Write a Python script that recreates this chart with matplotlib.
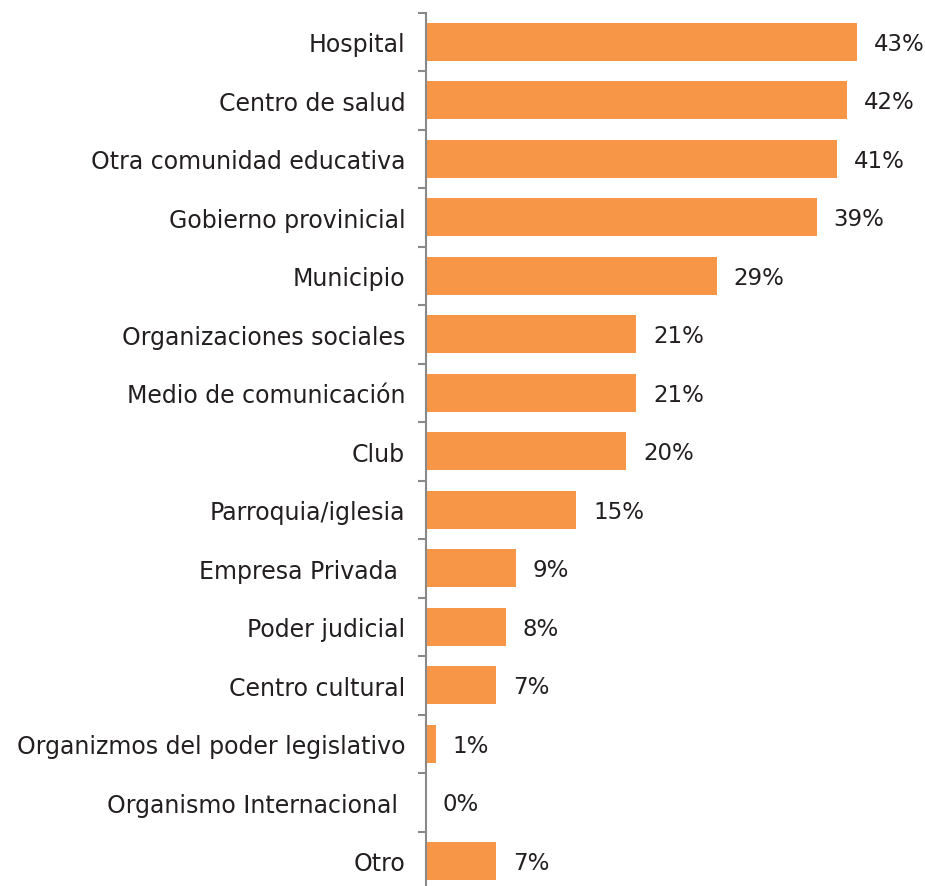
import matplotlib.pyplot as plt
import numpy as np

categories = ['Hospital', 'Centro de salud', 'Otra comunidad educativa', 'Gobierno provinicial',
              'Municipio', 'Organizaciones sociales', 'Medio de comunicación', 'Club',
              'Parroquia/iglesia', 'Empresa Privada ', 'Poder judicial', 'Centro cultural',
              'Organizmos del poder legislativo', 'Organismo Internacional ', 'Otro']
values = [43, 42, 41, 39, 29, 21, 21, 20, 15, 9, 8, 7, 1, 0, 7]

plt.rcParams['font.family'] = ['DejaVu Sans']

fig = plt.figure(figsize=(9.25, 8.87), dpi=100)
ax = fig.add_axes([426 / 925, 1 - 891 / 887, 499 / 925, (891 - 13.75) / 887])

y = np.arange(len(categories))
ax.barh(y, values, height=0.65, color='#F79646')
ax.set_ylim(len(categories) - 0.5, -0.5)
ax.set_xlim(0, 49.8)

for yi, v in zip(y, values):
    ax.annotate(f'{v}%', (v, yi), xytext=(12, -1), textcoords='offset points',
                va='center', ha='left', fontsize=16.5, color='#231F20')

ax.set_yticks(y)
ax.set_yticklabels(categories, fontsize=17, color='#231F20')
ax.tick_params(axis='y', which='major', length=0, pad=15)
ax.set_yticks(np.arange(-0.5, len(categories), 1), minor=True)
ax.tick_params(axis='y', which='minor', length=6, width=1.5, color='#898989')
ax.set_xticks([])
for s in ['top', 'right', 'bottom']:
    ax.spines[s].set_visible(False)
ax.spines['left'].set_color('#898989')
ax.spines['left'].set_linewidth(1.5)

fig.savefig('out.png', dpi=100)
